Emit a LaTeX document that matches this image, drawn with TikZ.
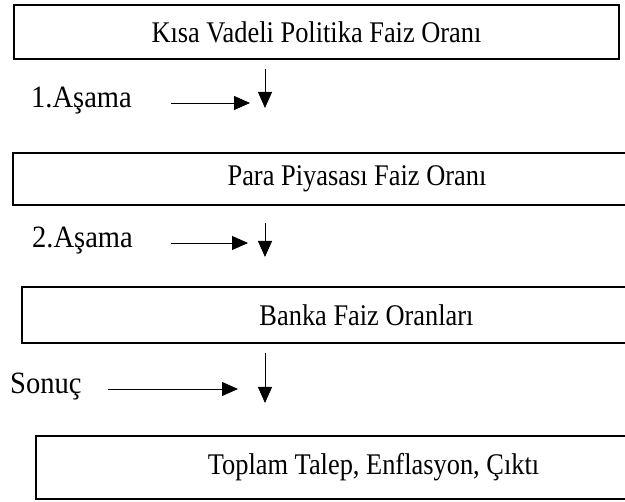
\documentclass[tikz,border=0pt]{standalone}
\usepackage{fontspec}
\setmainfont{Liberation Serif}
\newfontfamily\boxfont{Liberation Serif}[FakeStretch = 0.88]
\newfontfamily\stagefont{Liberation Serif}[FakeStretch = 0.92]
\usetikzlibrary{arrows.meta}

\begin{document}
\begin{tikzpicture}[x = 1pt, y = -1pt, > = {Triangle[length = 16pt, width = 14pt]}]
\tikzset{
  stagebox/.style = {draw, rectangle, line width = 1.8pt, inner sep = 0pt,
    font = \boxfont\fontsize{30}{34}\selectfont},
  phasetext/.style = {anchor = base west, inner sep = 0pt,
    font = \stagefont\fontsize{31}{35}\selectfont},
  flow/.style = {->, line width = 0.9pt},
}
\useasboundingbox (0,0) rectangle (625,502);
\clip (0,0) rectangle (625,502);
% boxes
\node [stagebox, minimum width = 605pt, minimum height = 54pt] (policyRate) at (316.5,32) {Kısa Vadeli Politika Faiz Oranı};
\node [stagebox, minimum width = 688pt, minimum height = 52pt] (moneyMarket) at (357,179) {Para Piyasası Faiz Oranı};
\node [stagebox, minimum width = 689pt, minimum height = 56pt] (bankRates) at (366.5,315) {Banka Faiz Oranları};
\node [stagebox, minimum width = 675pt, minimum height = 63pt] (outcome) at (373.5,467.5) {Toplam Talep, Enflasyon, Çıktı};
% stage labels
\node [phasetext] (firstStage) at (31,108) {1.Aşama};
\node [phasetext] (secondStage) at (32,248) {2.Aşama};
\node [phasetext] (result) at (10,394) {Sonuç};
% arrow ends
\coordinate (firstFrom) at (171,103);
\coordinate (firstTo) at (250,103);
\coordinate (firstTop) at (265,69);
\coordinate (firstBottom) at (265,108);
\coordinate (secondFrom) at (171,243);
\coordinate (secondTo) at (248,243);
\coordinate (secondTop) at (265,223);
\coordinate (secondBottom) at (265,257);
\coordinate (resultFrom) at (108,389);
\coordinate (resultTo) at (238,389);
\coordinate (resultTop) at (265,353);
\coordinate (resultBottom) at (265,403);
\draw [flow] (firstFrom) -- (firstTo);
\draw [flow] (firstTop) -- (firstBottom);
\draw [flow] (secondFrom) -- (secondTo);
\draw [flow] (secondTop) -- (secondBottom);
\draw [flow] (resultFrom) -- (resultTo);
\draw [flow] (resultTop) -- (resultBottom);
\end{tikzpicture}
\end{document}
